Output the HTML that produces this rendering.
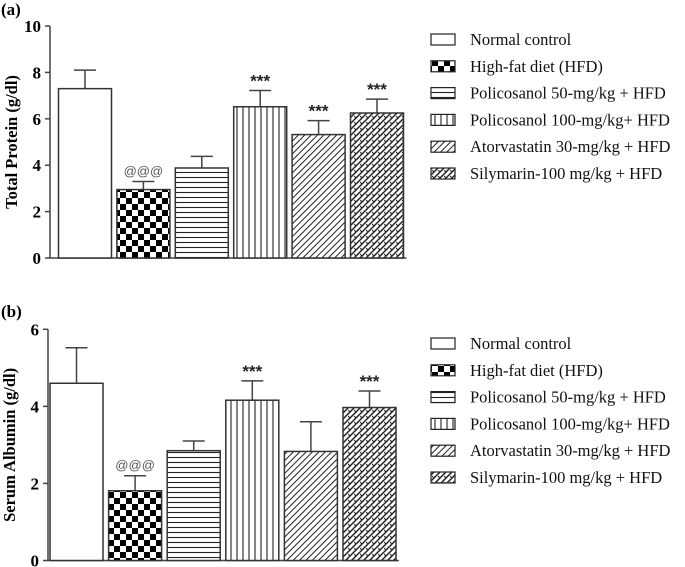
<!DOCTYPE html>
<html><head><meta charset="utf-8">
<style>
html,body{margin:0;padding:0;background:#fff;}
svg{display:block;}
</style></head>
<body>
<svg id="chart" width="685" height="567" viewBox="0 0 685 567" xmlns="http://www.w3.org/2000/svg">
<defs>
<pattern id="p-check" patternUnits="userSpaceOnUse" width="12" height="12"><rect width="12" height="12" fill="#fff"/><rect width="6" height="6" fill="#000"/><rect x="6" y="6" width="6" height="6" fill="#000"/></pattern>
<pattern id="p-horiz" patternUnits="userSpaceOnUse" width="8" height="5"><rect width="8" height="5" fill="#fff"/><line x1="0" y1="2.5" x2="8" y2="2.5" stroke="#222" stroke-width="1.1"/></pattern>
<pattern id="p-vert" patternUnits="userSpaceOnUse" width="6" height="8"><rect width="6" height="8" fill="#fff"/><line x1="3" y1="0" x2="3" y2="8" stroke="#222" stroke-width="1.1"/></pattern>
<pattern id="p-diag" patternUnits="userSpaceOnUse" width="4.5" height="4.5" patternTransform="rotate(45)"><rect width="4.5" height="4.5" fill="#fff"/><line x1="0" y1="0" x2="0" y2="4.5" stroke="#222" stroke-width="2"/></pattern>
<pattern id="p-zig" patternUnits="userSpaceOnUse" width="6" height="6"><rect width="6" height="6" fill="#fff"/><path d="M0 6 L6 0 M-1 1 L1 -1 M5 7 L7 5" stroke="#222" stroke-width="1.5"/><path d="M0 2 L2 4" stroke="#222" stroke-width="1.1"/></pattern>
</defs>
<g id="plots"></g>
</svg>
<script>
const groups = ["Normal control","High-fat diet (HFD)","Policosanol 50-mg/kg + HFD","Policosanol 100-mg/kg+ HFD","Atorvastatin 30-mg/kg + HFD","Silymarin-100 mg/kg + HFD"];
const proteinValues = [7.3, 2.95, 3.88, 6.52, 5.32, 6.25];
const proteinErrors = [0.8, 0.35, 0.5, 0.7, 0.6, 0.6];
const proteinMarks = ["", "@@@", "", "***", "***", "***"];
const proteinTicks = [0, 2, 4, 6, 8, 10];
const albuminValues = [4.6, 1.81, 2.85, 4.16, 2.83, 3.97];
const albuminErrors = [0.92, 0.39, 0.25, 0.5, 0.77, 0.43];
const albuminMarks = ["", "@@@", "", "***", "", "***"];
const albuminTicks = [0, 2, 4, 6];
const fills = ["#fff","url(#p-check)","url(#p-horiz)","url(#p-vert)","url(#p-diag)","url(#p-zig)"];
const NS = "http://www.w3.org/2000/svg";
const root = document.getElementById('plots');
function mk(tag, attrs, parent, text){
  const e = document.createElementNS(NS, tag);
  for (const k in attrs) e.setAttribute(k, attrs[k]);
  if (text !== undefined) e.textContent = text;
  (parent||root).appendChild(e);
  return e;
}
function panel(cfg){
  const g = mk('g', {});
  
  
  const y = v => cfg.y0 - (v / cfg.max) * (cfg.y0 - cfg.yTop);
  const x = i => cfg.barX0 + i * cfg.pitch;
  const lbl = mk('text', {x: 1, y: cfg.labelY, 'font-family': '"Liberation Serif", serif', 'font-weight': 'bold', 'font-size': 17}, g, cfg.label);
  
  
  const ax = mk('path', {d: `M${cfg.axisX} ${cfg.yTop} L${cfg.axisX} ${cfg.y0} L${x(5)+cfg.bw+3} ${cfg.y0}`, stroke: '#444', 'stroke-width': 1.5, fill: 'none'}, g);
  
  
  cfg.ticks.forEach(t => {
    mk('line', {x1: cfg.axisX-5, x2: cfg.axisX, y1: y(t), y2: y(t), stroke: '#444', 'stroke-width': 1.5}, g);
    const tl = mk('text', {x: cfg.axisX-9, y: y(t)+6, 'text-anchor': 'end', 'font-family': '"Liberation Serif", serif', 'font-weight': 'bold', 'font-size': 17}, g, String(t));
    
    
  });
  const yt = mk('text', {x: 0, y: 0, transform: `translate(${cfg.titleX},${(cfg.y0+cfg.yTop)/2}) rotate(-90)`, 'text-anchor': 'middle', 'font-family': '"Liberation Serif", serif', 'font-weight': 'bold', 'font-size': 16.5}, g, cfg.title);
  
  
  cfg.values.forEach((v, i) => {
    const top = y(v), etop = y(v + cfg.errors[i]), cx = x(i) + cfg.bw/2;
    const eb = mk('path', {d: `M${cx} ${top} L${cx} ${etop} M${cx-11} ${etop} L${cx+11} ${etop}`, stroke: '#444', 'stroke-width': 1.5}, g);
    
    
    const r = mk('rect', {x: x(i), y: top, width: cfg.bw, height: cfg.y0 - top, fill: fills[i], stroke: '#333', 'stroke-width': 1.5}, g);
    
    
    if (cfg.marks[i]) {
      const star = cfg.marks[i]==='***';
      const m = mk('text', {x: cx, y: etop - (star?4:6), 'text-anchor': 'middle', 'font-family': '"Liberation Sans", sans-serif', 'font-size': star?17:13, fill: star?'#222':'#555', 'font-weight': star?'bold':'normal'}, g, cfg.marks[i]);
      
      
    }
  });
  groups.forEach((name, i) => {
    const ly = cfg.legY + i * cfg.legStep;
    const le = mk('g', {}, g);
    
    
    mk('rect', {x: 431, y: ly-6, width: 24, height: 11, fill: fills[i], stroke: '#222', 'stroke-width': 1.2}, le);
    mk('text', {x: 470, y: ly+5, 'font-family': '"Liberation Serif", serif', 'font-size': 16.5, fill: '#111'}, le, name);
  });
}
panel({id: 'protein', label: '(a)', labelY: 15, axisX: 50, y0: 258, yTop: 26, max: 10, ticks: proteinTicks, title: 'Total Protein (g/dl)', titleX: 17, barX0: 58.5, pitch: 58.4, bw: 53, values: proteinValues, errors: proteinErrors, marks: proteinMarks, legY: 40, legStep: 26.8});
panel({id: 'albumin', label: '(b)', labelY: 317, axisX: 48, y0: 560.5, yTop: 329.3, max: 6, ticks: albuminTicks, title: 'Serum Albumin (g/dl)', titleX: 15, barX0: 50, pitch: 58.6, bw: 53, values: albuminValues, errors: albuminErrors, marks: albuminMarks, legY: 344, legStep: 26.8});
</script>
</body></html>
